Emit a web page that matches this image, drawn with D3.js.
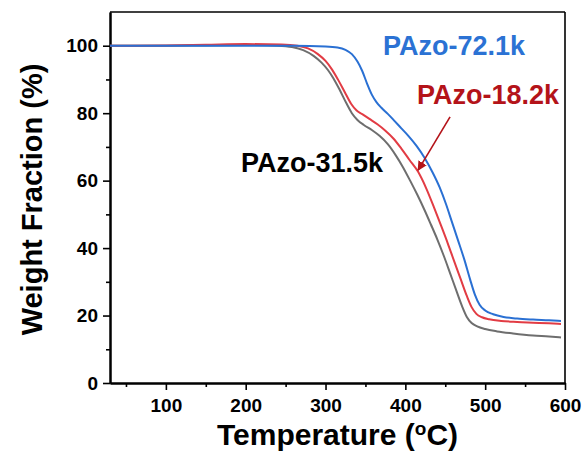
<!DOCTYPE html>
<html>
<head>
<meta charset="utf-8">
<script src="https://cdn.jsdelivr.net/npm/d3@7"></script>
<style>
  html, body { margin: 0; padding: 0; background: #fff; }
  svg { display: block; }
  text { font-family: "Liberation Sans", Arial, sans-serif; font-weight: bold; }
</style>
</head>
<body>
<svg id="chart" width="586" height="454"></svg>
<script>
// TGA weight-loss curves: [temperature °C, weight %]
const pazo315 = [[30,100],[100,100],[150,100.1],[200,100.2],[240,100],[258,99.6],[272,98.7],[285,97],[295,95],[303,92.8],[310,90.3],[318,86.8],[326,83],[333,80],[340,78],[348,76.5],[358,75],[368,73.2],[378,70.8],[388,67.5],[397,64],[406,60],[415,55.8],[424,51.3],[432,47],[440,42.6],[448,37.8],[456,32.6],[464,27.3],[471,22.8],[477,19.6],[483,17.8],[490,16.8],[500,16],[515,15.3],[535,14.7],[560,14.1],[580,13.8],[595,13.5]];
const pazo182 = [[30,100],[100,100.1],[150,100.3],[200,100.5],[245,100.4],[265,100],[278,99.2],[290,97.6],[300,95.5],[308,93],[316,89.8],[324,86.3],[332,82.8],[339,80.8],[346,79.7],[355,78.3],[365,76.7],[375,74.8],[385,72.5],[395,69.5],[405,66.2],[416,62.6],[426,57.8],[436,52],[445,46.5],[453,41.5],[461,36.2],[469,31],[477,25.8],[483,22.5],[489,20.5],[496,19.5],[505,18.9],[520,18.4],[540,18.1],[560,17.9],[580,17.7],[595,17.5]];
const pazo721 = [[30,100],[100,100],[200,100],[260,100],[300,99.8],[315,99.5],[325,98.8],[333,97.5],[340,95.3],[346,92.5],[352,88.8],[358,85.5],[364,83.2],[370,81.6],[378,79.8],[386,77.8],[395,75.5],[404,73.2],[414,70.3],[424,66.8],[434,62.5],[443,58],[451,53],[458,48],[466,42.3],[474,36.5],[481,30.8],[487,26.3],[493,23.2],[500,21.5],[510,20.4],[523,19.6],[540,19.1],[560,18.8],[580,18.6],[595,18.4]];

const seriesNames = ["PAzo-31.5k", "PAzo-18.2k", "PAzo-72.1k"];
const xTicks = [100, 200, 300, 400, 500, 600];
const xMinorTicks = [50, 150, 250, 350, 450, 550];
const yTicks = [0, 20, 40, 60, 80, 100];
const yMinorTicks = [10, 30, 50, 70, 90];

const svg = d3.select("#chart");
const plotL = 110, plotR = 565, plotT = 12, plotB = 383;

const x = d3.scaleLinear().domain([30, 600]).range([plotL, plotR]);
const y = d3.scaleLinear().domain([0, 110]).range([plotB, plotT]);

// frame (top and right edges)
svg.append("line").attr("x1", plotL).attr("x2", plotR).attr("y1", plotT).attr("y2", plotT)
  .attr("stroke", "#000").attr("stroke-width", 1.6);
svg.append("line").attr("x1", plotR).attr("x2", plotR).attr("y1", plotT).attr("y2", plotB)
  .attr("stroke", "#000").attr("stroke-width", 1.6);

function styleAxis(g) {
  g.select(".domain").attr("stroke", "#000").attr("stroke-width", 2);
  g.selectAll(".tick line").attr("stroke", "#000").attr("stroke-width", 1.6);
  g.selectAll(".tick text").attr("fill", "#000").style("font-size", "19px")
    .style("font-family", "'Liberation Sans', Arial, sans-serif").style("font-weight", "bold");
}

// x axis: minor then major
svg.append("g").attr("transform", `translate(0,${plotB})`)
  .call(d3.axisBottom(x).tickValues(xMinorTicks).tickSize(4).tickFormat("").tickSizeOuter(0))
  .call(styleAxis);
svg.append("g").attr("transform", `translate(0,${plotB})`)
  .call(d3.axisBottom(x).tickValues(xTicks).tickSize(7).tickPadding(9).tickSizeOuter(0))
  .call(styleAxis);

// y axis
svg.append("g").attr("transform", `translate(${plotL},0)`)
  .call(d3.axisLeft(y).tickValues(yMinorTicks).tickSize(4).tickFormat("").tickSizeOuter(0))
  .call(styleAxis);
svg.append("g").attr("transform", `translate(${plotL},0)`)
  .call(d3.axisLeft(y).tickValues(yTicks).tickSize(7).tickPadding(5).tickSizeOuter(0))
  .call(styleAxis);

// curves
const line = d3.line().x(d => x(d[0])).y(d => y(d[1])).curve(d3.curveMonotoneX);
const curves = [
  { data: pazo315, color: "#6e6e6e" },
  { data: pazo182, color: "#e23c44" },
  { data: pazo721, color: "#2a70d3" }
];
svg.append("g").selectAll("path").data(curves).join("path")
  .attr("d", d => line(d.data))
  .attr("fill", "none")
  .attr("stroke", d => d.color)
  .attr("stroke-width", 2);

// series labels
const labels = [
  { text: seriesNames[2], t: 372, w: 97.2, color: "#2b72d4" },
  { text: seriesNames[1], t: 414.7, w: 82.7, color: "#b41319" },
  { text: seriesNames[0], t: 194.2, w: 62.6, color: "#000" }
];
svg.append("g").selectAll("text").data(labels).join("text")
  .attr("x", d => x(d.t)).attr("y", d => y(d.w))
  .attr("fill", d => d.color)
  .style("font-size", "27px")
  .text(d => d.text);

// arrow pointing at the 18.2k curve
svg.append("defs").append("marker")
  .attr("id", "arrowhead").attr("viewBox", "0 0 10 10")
  .attr("refX", 9).attr("refY", 5)
  .attr("markerWidth", 6).attr("markerHeight", 6)
  .attr("orient", "auto")
  .append("path").attr("d", "M0,0 L10,5 L0,10 Z").attr("fill", "#b41319");
svg.append("line")
  .attr("x1", x(456)).attr("y1", y(78.9))
  .attr("x2", x(416)).attr("y2", y(63.1))
  .attr("stroke", "#b41319").attr("stroke-width", 1.6)
  .attr("marker-end", "url(#arrowhead)");

// axis titles
const xt = svg.append("text")
  .attr("x", (plotL + plotR) / 2).attr("y", 445)
  .attr("text-anchor", "middle").attr("fill", "#000")
  .style("font-size", "30px");
xt.append("tspan").text("Temperature (");
xt.append("tspan").attr("dy", -10).style("font-size", "19px").text("o");
xt.append("tspan").attr("dy", 10).text("C)");

svg.append("text")
  .attr("transform", `translate(42,${(plotT + plotB) / 2 + 2}) rotate(-90)`)
  .attr("text-anchor", "middle").attr("fill", "#000")
  .style("font-size", "29px")
  .text("Weight Fraction (%)");
</script>
</body>
</html>
